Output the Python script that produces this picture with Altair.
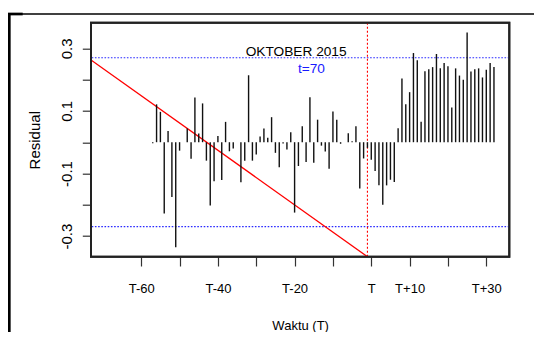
import altair as alt
import pandas as pd

# ---------------- data ----------------
time_index = list(range(-57, 33))
residuals = [
    -0.003, 0.121, 0.097, -0.228, 0.036, -0.175, -0.336, -0.027, 0.0, 0.044,      # -57..-48
    -0.053, 0.143, 0.028, 0.124, -0.059, -0.202, -0.125, 0.020, -0.121, 0.065,     # -47..-38
    -0.029, -0.020, 0.0, -0.128, -0.059, 0.214, -0.059, -0.039, 0.018, 0.044,      # -37..-28
    0.014, 0.080, -0.034, -0.080, -0.004, -0.023, 0.032, -0.225, -0.076, 0.051,    # -27..-18
    -0.063, 0.144, -0.066, 0.072, -0.011, -0.030, -0.085, 0.098, 0.072, -0.005,    # -17..-8
    0.0, 0.029, 0.003, 0.051, -0.148, -0.052, -0.018, -0.056, -0.092, -0.138,      # -7..2
    -0.200, -0.138, -0.120, -0.127, 0.045, 0.204, 0.121, 0.160, 0.285, 0.262,      # 3..12
    0.065, 0.227, 0.233, 0.240, 0.282, 0.236, 0.253, 0.243, 0.111, 0.236,          # 13..22
    0.213, 0.200, 0.351, 0.226, 0.233, 0.236, 0.207, 0.232, 0.253, 0.240,          # 23..32
]
limit_band = [0.27, -0.27]
event_x = [-1]
trend_x = [-73.1, -1.0]
trend_y = [0.263, -0.366]
x_tick_values = [-60, -50, -40, -30, -20, -10, 0, 10, 20, 30]
x_tick_labels = ["T-60", "", "T-40", "", "T-20", "", "T", "T+10", "", "T+30"]
y_tick_values = [-0.3, -0.2, -0.1, 0.0, 0.1, 0.2, 0.3]
y_tick_labels = ["-0.3", "", "-0.1", "", "0.1", "", "0.3"]
annot_text = ["OKTOBER 2015", "t=70"]
annot_x = [-19.6, -15.6]
annot_y = [0.275, 0.222]
annot_color = ["#000000", "#1a1aff"]

X_DOMAIN = [-73.1, 36.0]
Y_DOMAIN = [-0.366, 0.382]
W, H = 418.3, 234
FONT = "Liberation Sans, Arial, Helvetica, sans-serif"


def label_expr(vals, labs, scale=1000):
    expr = "''"
    for v, l in reversed(list(zip(vals, labs))):
        expr = f"(round(datum.value*{scale}) == {round(v * scale)} ? '{l}' : {expr})"
    return expr


bars_df = pd.DataFrame({"t": time_index, "res": residuals, "zero": [0] * len(time_index)})
band_df = pd.DataFrame({"y": limit_band})
event_df = pd.DataFrame({"x": event_x})
trend_df = pd.DataFrame({"x": trend_x, "y": trend_y})
annot_df = pd.DataFrame({"txt": annot_text, "x": annot_x, "y": annot_y, "c": annot_color})
box_df = pd.DataFrame({"x0": [X_DOMAIN[0]], "x1": [X_DOMAIN[1]], "y0": [Y_DOMAIN[0]], "y1": [Y_DOMAIN[1]]})

xs = alt.Scale(domain=X_DOMAIN, nice=False, zero=False)
ys = alt.Scale(domain=Y_DOMAIN, nice=False, zero=False)

x_axis = alt.Axis(
    values=x_tick_values, labelExpr=label_expr(x_tick_values, x_tick_labels),
    grid=False, domain=False, tickSize=9.3, tickColor="#333", tickWidth=1.2,
    labelFont=FONT, labelFontSize=13, labelColor="#000", labelBaseline="alphabetic",
    labelPadding=26.8, labelOverlap=False, labelFlush=False,
    title="Waktu (T)", titleFont=FONT, titleFontSize=13, titleFontWeight="normal",
    titleColor="#000", titleX=W / 2, titleY=72.3, titleBaseline="alphabetic", titleAlign="center",
)
y_axis = alt.Axis(
    values=y_tick_values, labelExpr=label_expr(y_tick_values, y_tick_labels),
    grid=False, domain=False, tickSize=8.7, tickColor="#333", tickWidth=1.2,
    labelFont=FONT, labelFontSize=15, labelColor="#000", labelAngle=270,
    labelAlign="center", labelBaseline="alphabetic", labelPadding=11.3,
    labelOverlap=False, labelFlush=False,
    title="Residual", titleFont=FONT, titleFontSize=15, titleFontWeight="normal",
    titleColor="#000", titleAngle=270, titleX=-52, titleY=H / 2,
    titleAlign="center", titleBaseline="alphabetic",
)


def X(field):
    return alt.X(field, scale=xs, axis=x_axis)


def Y(field):
    return alt.Y(field, scale=ys, axis=y_axis)


bars = alt.Chart(bars_df).mark_rule(color="#111", strokeWidth=1.4).encode(
    x=X("t:Q"), y=Y("res:Q"), y2="zero:Q",
)

bands = alt.Chart(band_df).mark_rule(color="#2a2aff", strokeWidth=1.2, strokeDash=[1.6, 1.6]).encode(
    y=Y("y:Q"),
)

event = alt.Chart(event_df).mark_rule(color="#ff0000", strokeWidth=1.1, strokeDash=[2, 2]).encode(
    x=X("x:Q"),
)

trend = alt.Chart(trend_df).mark_line(color="#ff0000", strokeWidth=1.3, clip=True).encode(
    x=X("x:Q"), y=Y("y:Q"),
)

annots = alt.Chart(annot_df).mark_text(
    font=FONT, fontSize=13.7, align="center", baseline="alphabetic"
).encode(
    x=X("x:Q"), y=Y("y:Q"),
    text="txt:N",
    color=alt.Color("c:N", scale=None),
)

# plot box (R's box()) drawn from the scale domain
box = alt.Chart(box_df).mark_rect(
    fill="transparent", stroke="#222", strokeWidth=2
).encode(
    x=X("x0:Q"), x2="x1:Q", y=Y("y0:Q"), y2="y1:Q",
)

frame_df = pd.DataFrame({"k": [0]})
frame_left = alt.Chart(frame_df).mark_rule(color="#000", strokeWidth=3.3).encode(
    x=alt.value(-82), y=alt.value(-9.7), y2=alt.value(320)
)
frame_top = alt.Chart(frame_df).mark_rule(color="#000", strokeWidth=1.7).encode(
    x=alt.value(-83.7), x2=alt.value(460), y=alt.value(-8.7)
)
frame_stub = alt.Chart(frame_df).mark_rule(color="#000", strokeWidth=2.7).encode(
    x=alt.value(-83.7), x2=alt.value(-68.3), y=alt.value(-8.7)
)

chart = alt.layer(
    bands, event, trend, bars, annots, box,
    frame_left, frame_top, frame_stub
).properties(
    width=W, height=H,
    autosize=alt.AutoSizeParams(type="none"),
    padding={"left": 83, "top": 14.7, "right": 24.7, "bottom": 75.3},
    background="white",
).configure_view(
    stroke="#222", strokeWidth=2
)

chart.save("out.html", embed_options={"renderer": "svg", "actions": False})
